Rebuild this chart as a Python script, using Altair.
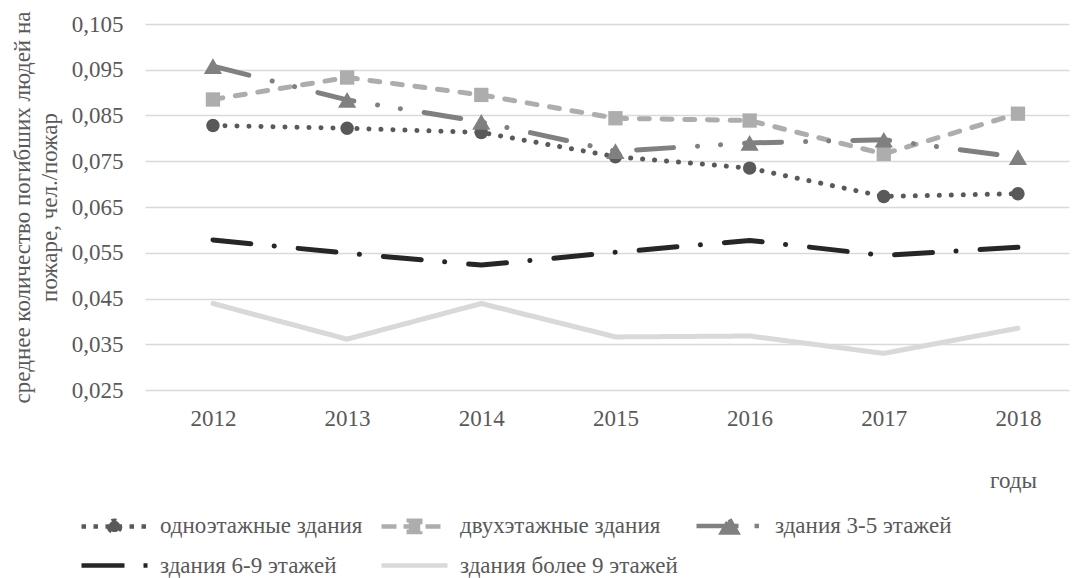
import altair as alt
import pandas as pd

# ---------------- data ----------------
years = ["2012", "2013", "2014", "2015", "2016", "2017", "2018"]
series_names = [
    "одноэтажные здания",
    "двухэтажные здания",
    "здания 3-5 этажей",
    "здания 6-9 этажей",
    "здания более 9 этажей",
]
one_storey = [0.0828, 0.0822, 0.0813, 0.0760, 0.0735, 0.0673, 0.0679]
two_storey = [0.0885, 0.0933, 0.0895, 0.0844, 0.0839, 0.0766, 0.0854]
floors_3_5 = [0.0958, 0.0884, 0.0836, 0.0772, 0.0790, 0.0797, 0.0759]
floors_6_9 = [0.0578, 0.0549, 0.0523, 0.0551, 0.0577, 0.0544, 0.0562]
floors_9_plus = [0.0439, 0.0361, 0.0439, 0.0366, 0.0368, 0.0330, 0.0385]
y_ticks = [0.025, 0.035, 0.045, 0.055, 0.065, 0.075, 0.085, 0.095, 0.105]

all_values = [one_storey, two_storey, floors_3_5, floors_6_9, floors_9_plus]
rows = []
for name, vals in zip(series_names, all_values):
    for yr, v in zip(years, vals):
        rows.append({"year": yr, "series": name, "value": v})
df = pd.DataFrame(rows)

# ---------------- styles ----------------
FONT = "Liberation Serif, Times New Roman, DejaVu Serif, serif"
TXT = "#595959"
colors = ["#595959", "#adadad", "#808080", "#262626", "#d9d9d9"]
line_dashes = [[0.1, 11.9], [10, 12.7], [37, 24, 0.1, 23, 0.1, 24], [38, 23.5, 0.1, 24], [1, 0]]
legend_dashes = [[4.5, 7.5], [15, 7], [42, 16, 4.5, 16, 4.5, 16], [43, 19, 4.5, 19], [1, 0]]
# legend symbol paths (1 unit = 11 px at symbolSize 484)
legend_paths = [
    "M-3,0H3M0.52,0A0.52,0.52,0,1,1,-0.52,0A0.52,0.52,0,1,1,0.52,0Z",
    "M-3,0H3M-0.52,-0.52H0.52V0.52H-0.52Z",
    "M-3,0H3M0,-0.6L0.68,0.6H-0.68Z",
    "M-3,0H3",
    "M-3,0H3",
]

x_enc = alt.X(
    "year:O",
    scale=alt.Scale(type="point", padding=0.4435, align=0.571),
    axis=alt.Axis(
        title="годы",
        titleX=868,
        titleY=97,
        titleAlign="center",
        titleBaseline="alphabetic",
        titleAngle=0,
        labelAngle=0,
        labelPadding=17,
        ticks=False,
        domain=False,
        grid=False,
    ),
)
y_enc = alt.Y(
    "value:Q",
    scale=alt.Scale(domain=[0.025, 0.105], nice=False, zero=False),
    axis=alt.Axis(
        title=["среднее количество погибших людей на", "пожаре, чел./пожар"],
        titleX=-123,
        titleY=183,
        titleAlign="center",
        titleBaseline="middle",
        titleLineHeight=27,
        values=y_ticks,
        labelExpr="replace(format(datum.value, '.3f'), '.', ',')",
        labelPadding=22,
        ticks=False,
        domain=False,
        grid=True,
        gridColor="#d9d9d9",
        gridWidth=1.3,
    ),
)

base = alt.Chart(df)

lines = base.mark_line(strokeWidth=5, strokeCap="round", strokeJoin="round").encode(
    x=x_enc,
    y=y_enc,
    color=alt.Color("series:N", scale=alt.Scale(domain=series_names, range=colors), legend=None),
    strokeDash=alt.StrokeDash(
        "series:N", scale=alt.Scale(domain=series_names, range=line_dashes), legend=None
    ),
)

def markers(idx, shape, size):
    return (
        base.transform_filter(alt.datum.series == series_names[idx])
        .mark_point(shape=shape, size=size, filled=True, opacity=1, color=colors[idx], strokeWidth=0)
        .encode(x=x_enc, y=y_enc)
    )

m_circle = markers(0, "circle", 180)
m_square = markers(1, "square", 205)
m_tri = markers(2, "triangle-up", 330)

leg = alt.Legend(
    title=None,
    orient="none",
    legendX=-44,
    legendY=488,
    columns=3,
    direction="horizontal",
    symbolSize=484,
    symbolStrokeWidth=4.5,
    symbolOffset=0,
    labelFont=FONT,
    labelFontSize=23,
    labelColor=TXT,
    labelOffset=32,
    labelLimit=0,
    columnPadding=9,
    rowPadding=10,
    padding=0,
)

legend_layer = (
    base.transform_filter(alt.datum.value < 0)
    .mark_point(filled=True, opacity=1, strokeWidth=4.5)
    .encode(
        x=x_enc,
        y=y_enc,
        fill=alt.Fill("series:N", scale=alt.Scale(domain=series_names, range=colors), legend=leg),
        stroke=alt.Stroke("series:N", scale=alt.Scale(domain=series_names, range=colors), legend=leg),
        shape=alt.Shape("series:N", scale=alt.Scale(domain=series_names, range=legend_paths), legend=leg),
        strokeDash=alt.StrokeDash(
            "series:N", scale=alt.Scale(domain=series_names, range=legend_dashes), legend=leg
        ),
    )
)

chart = (
    alt.layer(lines, m_circle, m_square, m_tri, legend_layer)
    .resolve_scale(fill="independent", stroke="independent", shape="independent", strokeDash="independent")
    .properties(
        width=924,
        height=366,
        autosize=alt.AutoSizeParams(type="none"),
        padding={"left": 137, "top": 16, "right": 1, "bottom": 188},
    )
    .configure(font=FONT)
    .configure_view(stroke=None)
    .configure_axis(
        labelFont=FONT,
        labelFontSize=23,
        labelColor=TXT,
        titleFont=FONT,
        titleFontSize=23,
        titleColor=TXT,
        titleFontWeight="normal",
    )
    .configure_legend(labelFont=FONT, labelFontSize=23, labelColor=TXT)
)

chart.save("out.html", embed_options={"renderer": "svg", "actions": False})
